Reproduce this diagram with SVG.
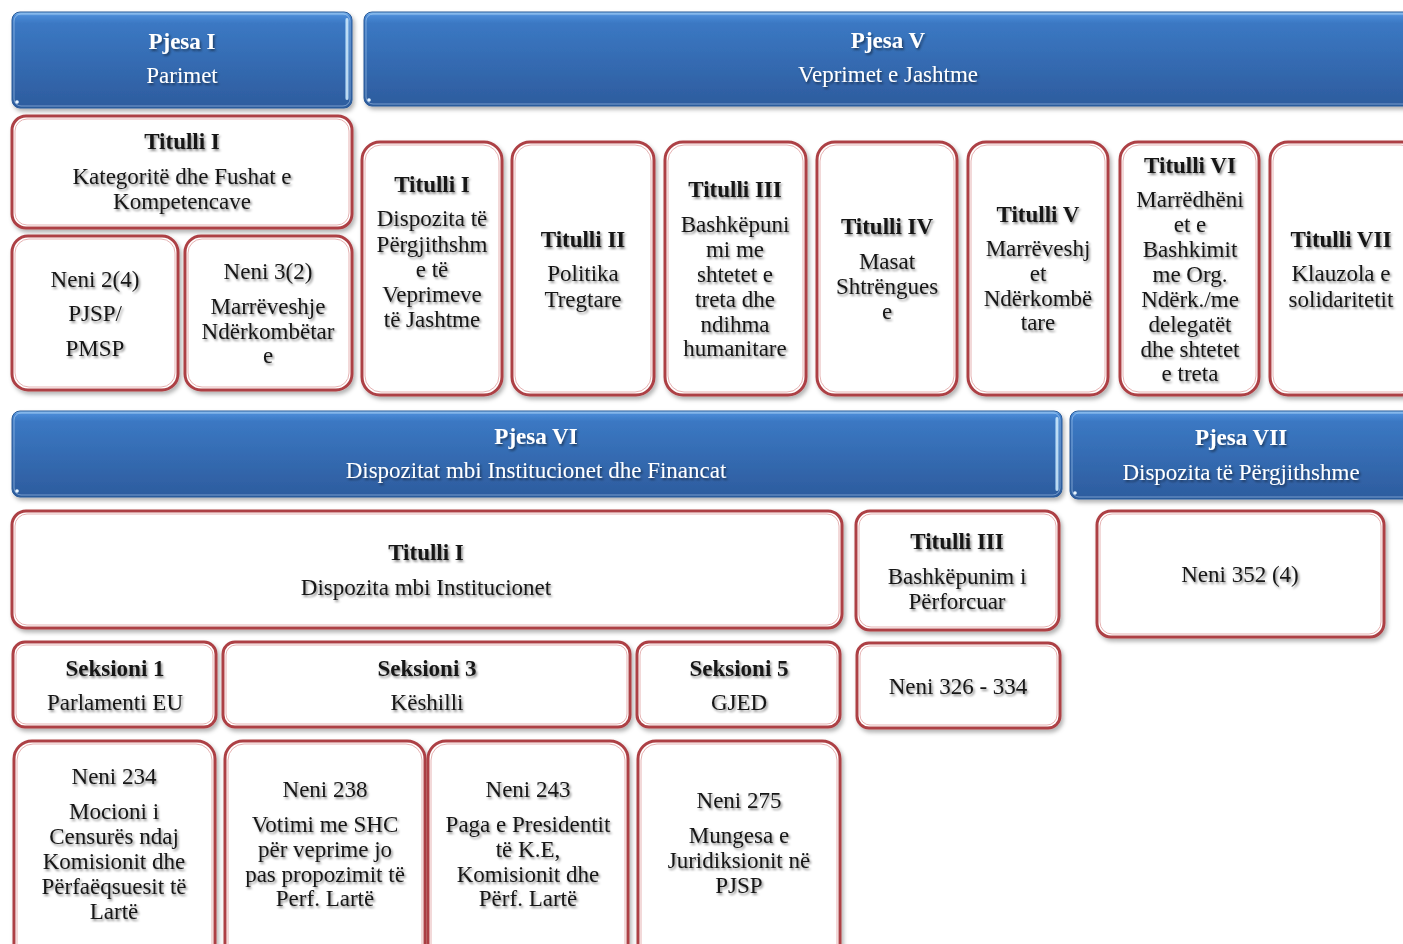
<svg xmlns="http://www.w3.org/2000/svg" width="1403" height="944" viewBox="0 0 1403 944">
<defs>
<linearGradient id="blue" x1="0" y1="0" x2="0" y2="1">
<stop offset="0" stop-color="#8cc4f4"/>
<stop offset="0.04" stop-color="#4a8ad6"/>
<stop offset="0.12" stop-color="#3b78c3"/>
<stop offset="1" stop-color="#2d5c9e"/>
</linearGradient>
<linearGradient id="edge" x1="0" y1="0" x2="1" y2="0">
<stop offset="0" stop-color="#9fd4fb" stop-opacity="0.4"/>
<stop offset="0.5" stop-color="#e6f6ff"/>
<stop offset="1" stop-color="#9fd4fb" stop-opacity="0.4"/>
</linearGradient>
<filter id="bs" x="-5%" y="-10%" width="110%" height="130%">
<feDropShadow dx="2" dy="3" stdDeviation="2" flood-color="#000" flood-opacity="0.3"/>
</filter>
<filter id="ts" x="-10%" y="-20%" width="120%" height="150%">
<feDropShadow dx="1.5" dy="2" stdDeviation="1.3" flood-color="#000" flood-opacity="0.45"/>
</filter>
</defs>
<style>
.hdr{fill:url(#blue);stroke:#2a5a98;stroke-width:1;filter:url(#bs)}
.hl{fill:none;stroke:#bfdcf7;stroke-width:1;opacity:0.5}
.eg{fill:url(#edge)}
.dot{fill:#e8f4ff}
.box{fill:#fff;stroke:#ad4145;stroke-width:3;filter:url(#bs)}
.in{fill:none;stroke:#e6b3b3;stroke-width:1}
text{font-family:"Liberation Serif","Times New Roman",serif;font-size:23px;text-anchor:middle;fill:#161616;filter:url(#ts)}
.b{font-weight:bold}
.w{fill:#fff}
</style>
<rect width="1403" height="944" fill="#fff"/>
<g id="connectors"/>

<g id="pjesa1">
<rect class="hdr" x="12" y="12" width="340" height="96" rx="8"/>
<rect class="hl" x="14" y="14" width="336" height="92" rx="7"/>
<rect class="eg" x="345" y="18" width="4" height="82" rx="2"/>
<circle class="dot" cx="17" cy="102" r="1.8"/>
<text class="w b" x="182" y="49">Pjesa I</text>
<text class="w" x="182" y="83">Parimet</text>
</g>
<g id="pjesa5">
<rect class="hdr" x="364" y="12" width="1060" height="94" rx="8"/>
<rect class="hl" x="366" y="14" width="1056" height="90" rx="7"/>
<circle class="dot" cx="369" cy="100" r="1.8"/>
<text class="w b" x="888" y="48">Pjesa V</text>
<text class="w" x="888" y="82">Veprimet e Jashtme</text>
</g>

<g id="p1-titulli1">
<rect class="box" x="12" y="116" width="340" height="112" rx="14"/>
<rect class="in" x="15" y="119" width="334" height="106" rx="12"/>
<text class="b" x="182" y="149">Titulli I</text>
<text x="182" y="184">Kategoritë  dhe Fushat e</text>
<text x="182" y="209">Kompetencave</text>
</g>
<g id="neni2-4">
<rect class="box" x="12" y="236" width="166" height="154" rx="16"/>
<rect class="in" x="15" y="239" width="160" height="148" rx="14"/>
<text x="95" y="287">Neni  2(4)</text>
<text x="95" y="321">PJSP/</text>
<text x="95" y="356">PMSP</text>
</g>
<g id="neni3-2">
<rect class="box" x="185" y="236" width="167" height="154" rx="16"/>
<rect class="in" x="188" y="239" width="161" height="148" rx="14"/>
<text x="268" y="279">Neni  3(2)</text>
<text x="268" y="314">Marrëveshje</text>
<text x="268" y="339">Ndërkombëtar</text>
<text x="268" y="363">e</text>
</g>

<g id="p5-titulli1">
<rect class="box" x="362" y="142" width="140" height="253" rx="18"/>
<rect class="in" x="365" y="145" width="134" height="247" rx="16"/>
<text class="b" x="432" y="192">Titulli I</text>
<text x="432" y="226">Dispozita të</text>
<text x="432" y="252">Përgjithshm</text>
<text x="432" y="277">e të</text>
<text x="432" y="302">Veprimeve</text>
<text x="432" y="327">të Jashtme</text>
</g>
<g id="p5-titulli2">
<rect class="box" x="512" y="142" width="142" height="253" rx="18"/>
<rect class="in" x="515" y="145" width="136" height="247" rx="16"/>
<text class="b" x="583" y="247">Titulli II</text>
<text x="583" y="281">Politika</text>
<text x="583" y="307">Tregtare</text>
</g>
<g id="p5-titulli3">
<rect class="box" x="665" y="142" width="141" height="253" rx="18"/>
<rect class="in" x="668" y="145" width="135" height="247" rx="16"/>
<text class="b" x="735" y="197">Titulli III</text>
<text x="735" y="232">Bashkëpuni</text>
<text x="735" y="257">mi me</text>
<text x="735" y="282">shtetet e</text>
<text x="735" y="307">treta dhe</text>
<text x="735" y="332">ndihma</text>
<text x="735" y="356">humanitare</text>
</g>
<g id="p5-titulli4">
<rect class="box" x="817" y="142" width="140" height="253" rx="18"/>
<rect class="in" x="820" y="145" width="134" height="247" rx="16"/>
<text class="b" x="887" y="234">Titulli IV</text>
<text x="887" y="269">Masat</text>
<text x="887" y="294">Shtrëngues</text>
<text x="887" y="319">e</text>
</g>
<g id="p5-titulli5">
<rect class="box" x="968" y="142" width="140" height="253" rx="18"/>
<rect class="in" x="971" y="145" width="134" height="247" rx="16"/>
<text class="b" x="1038" y="222">Titulli V</text>
<text x="1038" y="256">Marrëveshj</text>
<text x="1038" y="281">et</text>
<text x="1038" y="306">Ndërkombë</text>
<text x="1038" y="330">tare</text>
</g>
<g id="p5-titulli6">
<rect class="box" x="1120" y="142" width="139" height="253" rx="18"/>
<rect class="in" x="1123" y="145" width="133" height="247" rx="16"/>
<text class="b" x="1190" y="173">Titulli VI</text>
<text x="1190" y="207">Marrëdhëni</text>
<text x="1190" y="232">et e</text>
<text x="1190" y="257">Bashkimit</text>
<text x="1190" y="282">me Org.</text>
<text x="1190" y="307">Ndërk./me</text>
<text x="1190" y="332">delegatët</text>
<text x="1190" y="357">dhe shtetet</text>
<text x="1190" y="381">e treta</text>
</g>
<g id="p5-titulli7">
<rect class="box" x="1270" y="142" width="150" height="253" rx="18"/>
<rect class="in" x="1273" y="145" width="144" height="247" rx="16"/>
<text class="b" x="1341" y="247">Titulli VII</text>
<text x="1341" y="281">Klauzola  e</text>
<text x="1341" y="307">solidaritetit</text>
</g>

<g id="pjesa6">
<rect class="hdr" x="12" y="411" width="1050" height="86" rx="8"/>
<rect class="hl" x="14" y="413" width="1046" height="82" rx="7"/>
<rect class="eg" x="1055" y="417" width="4" height="74" rx="2"/>
<circle class="dot" cx="17" cy="491" r="1.8"/>
<text class="w b" x="536" y="444">Pjesa VI</text>
<text class="w" x="536" y="478">Dispozitat  mbi  Institucionet  dhe  Financat</text>
</g>
<g id="pjesa7">
<rect class="hdr" x="1070" y="411" width="350" height="88" rx="8"/>
<rect class="hl" x="1072" y="413" width="346" height="84" rx="7"/>
<circle class="dot" cx="1075" cy="493" r="1.8"/>
<text class="w b" x="1241" y="445">Pjesa VII</text>
<text class="w" x="1241" y="480">Dispozita  të  Përgjithshme</text>
</g>

<g id="p6-titulli1">
<rect class="box" x="12" y="511" width="830" height="117" rx="14"/>
<rect class="in" x="15" y="514" width="824" height="111" rx="12"/>
<text class="b" x="426" y="560">Titulli I</text>
<text x="426" y="595">Dispozita  mbi  Institucionet</text>
</g>
<g id="p6-titulli3">
<rect class="box" x="856" y="511" width="203" height="119" rx="14"/>
<rect class="in" x="859" y="514" width="197" height="113" rx="12"/>
<text class="b" x="957" y="549">Titulli III</text>
<text x="957" y="584">Bashkëpunim  i</text>
<text x="957" y="609">Përforcuar</text>
</g>
<g id="neni352">
<rect class="box" x="1097" y="511" width="287" height="126" rx="14"/>
<rect class="in" x="1100" y="514" width="281" height="120" rx="12"/>
<text x="1240" y="582">Neni  352  (4)</text>
</g>

<g id="seksioni1">
<rect class="box" x="13" y="642" width="203" height="85" rx="12"/>
<rect class="in" x="16" y="645" width="197" height="79" rx="10"/>
<text class="b" x="115" y="676">Seksioni 1</text>
<text x="115" y="710">Parlamenti  EU</text>
</g>
<g id="seksioni3">
<rect class="box" x="223" y="642" width="407" height="85" rx="12"/>
<rect class="in" x="226" y="645" width="401" height="79" rx="10"/>
<text class="b" x="427" y="676">Seksioni 3</text>
<text x="427" y="710">Këshilli</text>
</g>
<g id="seksioni5">
<rect class="box" x="637" y="642" width="203" height="85" rx="12"/>
<rect class="in" x="640" y="645" width="197" height="79" rx="10"/>
<text class="b" x="739" y="676">Seksioni 5</text>
<text x="739" y="710">GJED</text>
</g>
<g id="neni326">
<rect class="box" x="857" y="643" width="203" height="85" rx="12"/>
<rect class="in" x="860" y="646" width="197" height="79" rx="10"/>
<text x="958" y="694">Neni  326  -  334</text>
</g>

<g id="neni234">
<rect class="box" x="14" y="741" width="201" height="230" rx="18"/>
<rect class="in" x="17" y="744" width="195" height="224" rx="16"/>
<text x="114" y="784">Neni  234</text>
<text x="114" y="819">Mocioni i</text>
<text x="114" y="844">Censurës ndaj</text>
<text x="114" y="869">Komisionit  dhe</text>
<text x="114" y="894">Përfaëqsuesit të</text>
<text x="114" y="919">Lartë</text>
</g>
<g id="neni238">
<rect class="box" x="225" y="741" width="200" height="230" rx="18"/>
<rect class="in" x="228" y="744" width="194" height="224" rx="16"/>
<text x="325" y="797">Neni  238</text>
<text x="325" y="832">Votimi  me SHC</text>
<text x="325" y="857">për veprime jo</text>
<text x="325" y="882">pas propozimit të</text>
<text x="325" y="906">Perf. Lartë</text>
</g>
<g id="neni243">
<rect class="box" x="428" y="741" width="200" height="230" rx="18"/>
<rect class="in" x="431" y="744" width="194" height="224" rx="16"/>
<text x="528" y="797">Neni  243</text>
<text x="528" y="832">Paga e Presidentit</text>
<text x="528" y="857">të K.E,</text>
<text x="528" y="882">Komisionit  dhe</text>
<text x="528" y="906">Përf. Lartë</text>
</g>
<g id="neni275">
<rect class="box" x="638" y="741" width="202" height="230" rx="18"/>
<rect class="in" x="641" y="744" width="196" height="224" rx="16"/>
<text x="739" y="808">Neni  275</text>
<text x="739" y="843">Mungesa  e</text>
<text x="739" y="868">Juridiksionit  në</text>
<text x="739" y="893">PJSP</text>
</g>
</svg>
